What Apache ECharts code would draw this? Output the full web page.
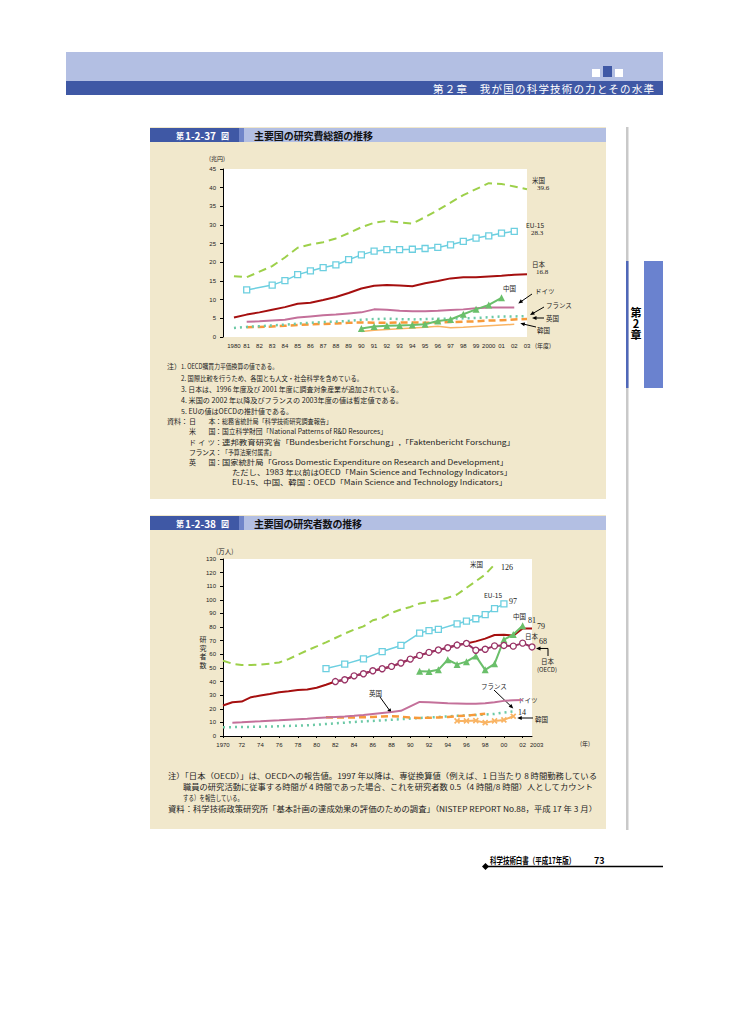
<!DOCTYPE html>
<html><head><meta charset="utf-8">
<script src="https://cdn.jsdelivr.net/npm/echarts@6/dist/echarts.min.js"></script>
<style>
html,body{margin:0;padding:0;background:#fff;}
#wrap{position:relative;width:729px;height:1032px;overflow:hidden;}
#deco{position:absolute;left:0;top:0;}
#c{position:absolute;left:0;top:0;width:729px;height:1032px;}
svg text{font-family:"Noto Sans CJK JP",sans-serif;}
</style></head><body>
<div id="wrap">
<svg id="deco" width="729" height="1032" xmlns="http://www.w3.org/2000/svg">
  <!-- header -->
  <rect x="66" y="52" width="597" height="29" fill="#b3bfe3"/>
  <rect x="66" y="81" width="597" height="14" fill="#3f58a5"/>
  <rect x="592" y="69" width="8" height="8" fill="#fff"/>
  <rect x="603" y="66" width="9" height="11" fill="#3f58a5"/>
  <rect x="615" y="69" width="8" height="8" fill="#fff"/>
  <text x="433" y="88" dominant-baseline="central" fill="#fff" font-size="10.5" textLength="221" lengthAdjust="spacing">第２章　我が国の科学技術の力とその水準</text>
  <!-- side bar -->
  <rect x="626" y="127" width="2.5" height="703" fill="#c9c9c9"/>
  <rect x="626" y="261" width="2.5" height="127" fill="#4f67b8"/>
  <rect x="644" y="261" width="19" height="127" fill="#6a82cf"/>
  <text x="636" y="307" font-size="11" font-weight="bold" style="writing-mode:vertical-rl;text-orientation:upright">第2章</text>
  <!-- panel 1 -->
  <rect x="150" y="127" width="456" height="372" fill="#f1e8cc"/>
  <rect x="150" y="128" width="89" height="14" fill="#3f58a5"/>
  <rect x="239" y="128" width="5" height="14" fill="#7085c9"/>
  <rect x="244" y="128" width="362" height="14" fill="#b3bfe3"/>
  <text x="176" y="135" dominant-baseline="central" fill="#fff" font-size="8" font-weight="bold">第</text>
  <text x="185" y="135" dominant-baseline="central" fill="#fff" font-size="10" font-weight="bold" font-family="Liberation Sans">1-2-37</text>
  <text x="221" y="135" dominant-baseline="central" fill="#fff" font-size="8" font-weight="bold">図</text>
  <text x="254" y="135" dominant-baseline="central" fill="#111" font-size="10" font-weight="bold" textLength="119" lengthAdjust="spacing">主要国の研究費総額の推移</text>
  <!-- notes 1 -->
  <g font-size="7" fill="#222">
  <text x="167" y="366" dominant-baseline="central">注）</text>
  <text x="181" y="366" dominant-baseline="central" textLength="97" lengthAdjust="spacingAndGlyphs">1. OECD購買力平価換算の値である。</text>
  <text x="181" y="377.5" dominant-baseline="central" textLength="182" lengthAdjust="spacingAndGlyphs">2. 国際比較を行うため、各国とも人文・社会科学を含めている。</text>
  <text x="181" y="389" dominant-baseline="central" textLength="222" lengthAdjust="spacingAndGlyphs">3. 日本は、1996 年度及び 2001 年度に調査対象産業が追加されている。</text>
  <text x="181" y="400" dominant-baseline="central" textLength="222" lengthAdjust="spacingAndGlyphs">4. 米国の 2002 年以降及びフランスの 2003年度の値は暫定値である。</text>
  <text x="181" y="411" dominant-baseline="central" textLength="112" lengthAdjust="spacingAndGlyphs">5. EUの値はOECDの推計値である。</text>
  <text x="167" y="421" dominant-baseline="central">資料：</text>
  <text x="189" y="421" dominant-baseline="central" textLength="33" lengthAdjust="spacing">日　　本：</text>
  <text x="222" y="421" dominant-baseline="central" textLength="110" lengthAdjust="spacingAndGlyphs">総務省統計局「科学技術研究調査報告」</text>
  <text x="189" y="431" dominant-baseline="central" textLength="33" lengthAdjust="spacing">米　　国：</text>
  <text x="222" y="431" dominant-baseline="central" textLength="165" lengthAdjust="spacingAndGlyphs">国立科学財団「National Patterns of R&amp;D Resources」</text>
  <text x="189" y="441.5" dominant-baseline="central" textLength="33" lengthAdjust="spacing">ド イ ツ：</text>
  <text x="222" y="441.5" dominant-baseline="central" textLength="293" lengthAdjust="spacingAndGlyphs">連邦教育研究省「Bundesbericht Forschung」,「Faktenbericht Forschung」</text>
  <text x="189" y="452" dominant-baseline="central" textLength="33" lengthAdjust="spacing">フランス：</text>
  <text x="222" y="452" dominant-baseline="central" textLength="53" lengthAdjust="spacingAndGlyphs">「予算法案付属書」</text>
  <text x="189" y="462" dominant-baseline="central" textLength="33" lengthAdjust="spacing">英　　国：</text>
  <text x="222" y="462" dominant-baseline="central" textLength="286" lengthAdjust="spacingAndGlyphs">国家統計局「Gross Domestic Expenditure on Research and Development」</text>
  <text x="232" y="472" dominant-baseline="central" textLength="280" lengthAdjust="spacingAndGlyphs">ただし、1983 年以前はOECD「Main Science and Technology Indicators」</text>
  <text x="232" y="482" dominant-baseline="central" textLength="275" lengthAdjust="spacingAndGlyphs">EU-15、中国、韓国：OECD「Main Science and Technology Indicators」</text>
  </g>
  <!-- panel 2 -->
  <rect x="150" y="515" width="456" height="314" fill="#f1e8cc"/>
  <rect x="150" y="516" width="89" height="14" fill="#3f58a5"/>
  <rect x="239" y="516" width="5" height="14" fill="#7085c9"/>
  <rect x="244" y="516" width="362" height="14" fill="#b3bfe3"/>
  <text x="176" y="523" dominant-baseline="central" fill="#fff" font-size="8" font-weight="bold">第</text>
  <text x="185" y="523" dominant-baseline="central" fill="#fff" font-size="10" font-weight="bold" font-family="Liberation Sans">1-2-38</text>
  <text x="221" y="523" dominant-baseline="central" fill="#fff" font-size="8" font-weight="bold">図</text>
  <text x="254" y="523" dominant-baseline="central" fill="#111" font-size="10" font-weight="bold" textLength="108" lengthAdjust="spacing">主要国の研究者数の推移</text>
  <g font-size="7.5" fill="#222">
  <text x="168" y="775" dominant-baseline="central" textLength="429" lengthAdjust="spacingAndGlyphs">注）「日本（OECD）」は、OECDへの報告値。1997 年以降は、専従換算値（例えば、1 日当たり 8 時間勤務している</text>
  <text x="183" y="786.5" dominant-baseline="central" textLength="410" lengthAdjust="spacingAndGlyphs">職員の研究活動に従事する時間が 4 時間であった場合、これを研究者数 0.5（4 時間/8 時間）人としてカウント</text>
  <text x="183" y="797.5" dominant-baseline="central" textLength="60" lengthAdjust="spacingAndGlyphs">する）を報告している。</text>
  <text x="168" y="808" dominant-baseline="central" textLength="429" lengthAdjust="spacingAndGlyphs">資料：科学技術政策研究所「基本計画の達成効果の評価のための調査」（NISTEP REPORT No.88，平成 17 年 3 月）</text>
  </g>
  <!-- footer -->
  <text transform="translate(490,860) scale(0.72,1)" dominant-baseline="central" font-size="9" font-weight="bold">科学技術白書（平成17年版）</text>
  <text x="594" y="860" dominant-baseline="central" font-size="9" font-weight="bold" font-family="Liberation Sans">73</text>
  <line x1="485" y1="866.5" x2="663" y2="866.5" stroke="#000" stroke-width="1.5"/>
  <polygon points="482,866.5 485.5,863 489,866.5 485.5,870" fill="#000"/>
</svg>
<div id="c"></div>
</div>
<script>
// ---------- Chart 1: research expenditure (trillion yen) ----------
const years1 = [1980,1981,1982,1983,1984,1985,1986,1987,1988,1989,1990,1991,1992,1993,1994,1995,1996,1997,1998,1999,2000,2001,2002,2003];
const us1 = [16.3,16.0,17.5,19.0,21.3,23.9,24.8,25.4,26.4,27.8,29.4,30.6,31.1,30.7,30.4,32.1,34.0,36.0,38.0,39.6,41.2,41.0,40.3,39.6];
const eu1 = [null,12.6,null,13.9,15.1,16.7,17.7,18.6,19.3,20.7,22.0,23.0,23.4,23.4,23.5,23.7,24.0,24.7,25.6,26.5,27.1,27.8,28.3,null];
const jp1 = [5.2,6.0,6.6,7.3,8.0,8.9,9.2,9.9,10.7,11.8,13.0,13.7,13.9,13.8,13.6,14.4,15.0,15.7,16.0,16.0,16.2,16.4,16.7,16.8];
const de1 = [null,4.1,4.2,4.4,4.6,5.2,5.5,5.8,6.0,6.3,6.6,7.4,7.3,7.0,6.9,6.9,7.0,7.2,7.4,7.7,7.9,7.9,7.9,null];
const fr1 = [2.4,2.7,2.9,3.1,3.3,3.6,3.8,4.0,4.1,4.3,4.6,4.8,4.9,4.8,4.7,4.8,4.9,4.9,5.0,5.1,5.3,5.5,5.5,5.6];
const uk1 = [null,2.6,2.7,2.8,3.0,3.2,3.4,3.5,3.6,3.8,3.9,3.8,3.8,3.9,3.9,3.8,3.9,4.0,4.1,4.2,4.4,4.5,4.7,4.8];
const cn1 = [null,null,null,null,null,null,null,null,null,null,2.3,2.8,3.0,3.1,3.2,3.4,4.3,4.7,6.1,7.4,8.6,10.5,null,null];
const kr1 = [null,null,null,null,null,null,null,null,null,null,1.5,1.8,2.0,2.2,2.4,2.6,2.9,2.5,2.6,2.8,3.0,3.2,3.4,null];

// ---------- Chart 2: number of researchers (10k persons) ----------
const years2 = [1970,1971,1972,1973,1974,1975,1976,1977,1978,1979,1980,1981,1982,1983,1984,1985,1986,1987,1988,1989,1990,1991,1992,1993,1994,1995,1996,1997,1998,1999,2000,2001,2002,2003];
const us2 = [55.3,53.1,52.1,52.1,52.5,53.1,54.0,56.5,59.7,62.9,65.8,68.8,72.0,75.2,78.1,80.5,85.0,86.7,90.4,92.9,94.8,97.3,98.5,99.7,101.5,103.9,108.8,113.7,118.6,126.0,null,null,null,null];
const eu2 = [null,null,null,null,null,null,null,null,null,null,null,49.5,null,52.8,null,56.7,null,62.0,null,66.5,null,75.6,77.4,78.3,null,82.4,84.3,86.1,89.2,93.6,97.0,null,null,null];
const jp2 = [22.4,24.8,25.3,28.5,29.7,30.9,32.2,32.9,33.7,34.1,35.4,37.6,40.0,41.3,44.2,45.7,47.9,49.4,51.1,53.6,56.5,59.2,61.4,63.2,64.8,66.8,68.0,69.5,71.5,74.2,74.4,73.7,79.0,79.0];
const jpOecd2 = [null,null,null,null,null,null,null,null,null,null,null,null,40.0,41.3,44.2,45.7,47.9,49.4,51.1,53.6,56.5,59.2,61.4,63.2,64.8,66.8,68.0,63.0,63.7,66.2,66.5,66.0,68.2,65.4];
const cn2 = [null,null,null,null,null,null,null,null,null,null,null,null,null,null,null,null,null,null,null,null,null,47.6,47.4,48.6,56.0,52.6,54.6,58.7,48.6,53.0,70.8,74.5,81.0,null];
const de2 = [null,9.8,10.1,10.5,10.8,11.2,11.5,11.9,12.3,12.7,13.2,13.6,14.0,14.4,14.9,15.5,16.2,16.9,17.6,18.5,21.8,25.0,24.8,24.4,24.0,23.8,23.6,23.7,24.0,24.8,25.8,26.3,26.4,null];
const uk2 = [null,null,null,null,null,null,null,null,null,null,null,13.7,13.6,13.5,13.6,13.8,14.0,14.3,14.6,14.2,13.5,13.2,13.4,13.6,14.0,14.6,15.0,15.6,16.3,null,null,null,null,null];
const fr2 = [6.4,6.5,6.6,6.7,6.8,7.0,7.2,7.4,7.6,7.9,8.3,8.8,9.3,9.8,10.3,10.7,11.1,11.5,11.9,12.4,12.8,13.2,13.6,14.0,14.4,14.8,15.1,15.4,15.8,16.2,17.2,18.0,null,null];
const kr2 = [null,null,null,null,null,null,null,null,null,null,null,null,null,null,null,null,null,null,null,null,null,null,null,null,null,11.1,11.1,11.3,9.8,11.1,11.8,14.5,null,null];
const xTicks2 = [1970,1972,1974,1976,1978,1980,1982,1984,1986,1988,1990,1992,1994,1996,1998,2000,2002];
const lastYearLabel2 = 2003;

const C = {
  us:'#9dd04a', eu:'#6ccfe0', jp:'#a50f0f', de:'#c4709a', fr:'#6cc9a6', uk:'#f79a3a', cn:'#6abf6a', kr:'#f9b464', jpo:'#993366'
};
const FONT = '"Noto Sans CJK JP", sans-serif';
const pairs = (ys, vs) => ys.map((y, i) => [y, vs[i] === null ? '-' : vs[i]]);

function line(name, xi, ys, vs, color, opt) {
  return Object.assign({
    name, type:'line', xAxisIndex:xi, yAxisIndex:xi, data:pairs(ys, vs),
    symbol:'none', lineStyle:{color, width:2}, itemStyle:{color}, silent:true, animation:false
  }, opt || {});
}

const chart = echarts.init(document.getElementById('c'), null, {renderer:'svg'});
const axisLbl = {fontSize:6, color:'#222', fontFamily:'Liberation Sans'};
const option = {
  backgroundColor:'transparent',
  animation:false,
  grid:[
    {left:223, top:169, width:304, height:168, show:true, backgroundColor:'#fff', borderWidth:0},
    {left:223, top:559, width:309, height:177, show:true, backgroundColor:'#fff', borderWidth:0}
  ],
  xAxis:[
    {gridIndex:0, type:'value', min:1979.14, max:2003,
     axisLine:{show:false}, axisTick:{show:false}, splitLine:{show:false},
     axisLabel:Object.assign({margin:6, customValues:years1, showMaxLabel:true, showMinLabel:true,
       formatter:v => (v===1980||v===2000) ? String(v) : String(v%100).padStart(2,'0')}, axisLbl)},
    {gridIndex:1, type:'value', min:1970, max:2003,
     axisLine:{show:true, lineStyle:{color:'#000', width:1}},
     axisTick:{show:true, length:2, customValues:xTicks2, lineStyle:{color:'#000'}},
     splitLine:{show:false},
     axisLabel:Object.assign({margin:6, customValues:xTicks2, showMinLabel:true,
       formatter:v => (v===1970) ? String(v) : String(v%100).padStart(2,'0')}, axisLbl)}
  ],
  yAxis:[
    {gridIndex:0, type:'value', min:0, max:45, interval:5,
     axisLine:{show:true, lineStyle:{color:'#000', width:1}},
     axisTick:{show:true, length:3, lineStyle:{color:'#000'}},
     splitLine:{show:false}, axisLabel:Object.assign({margin:7}, axisLbl)},
    {gridIndex:1, type:'value', min:0, max:130, interval:10,
     axisLine:{show:true, lineStyle:{color:'#000', width:1}},
     axisTick:{show:true, length:3, lineStyle:{color:'#000'}},
     splitLine:{show:false}, axisLabel:Object.assign({margin:7}, axisLbl)}
  ],
  series:[
    line('韓国', 0, years1, kr1, C.kr, {lineStyle:{color:C.kr, width:1.5}}),
    line('英国', 0, years1, uk1, C.uk, {lineStyle:{color:C.uk, width:2.5, type:[7,4]}}),
    line('フランス', 0, years1, fr1, C.fr, {lineStyle:{color:C.fr, width:2.5, type:[2,4]}}),
    line('ドイツ', 0, years1, de1, C.de),
    line('日本', 0, years1, jp1, C.jp),
    line('中国', 0, years1, cn1, C.cn, {symbol:'triangle', symbolSize:7, showSymbol:true}),
    line('EU-15', 0, years1, eu1, C.eu, {connectNulls:true, symbol:'rect', symbolSize:6, showSymbol:true,
      lineStyle:{color:C.eu, width:1.5}, itemStyle:{color:'#fff', borderColor:C.eu, borderWidth:1.3}}),
    line('米国', 0, years1, us1, C.us, {lineStyle:{color:C.us, width:2, type:[8,5]}}),

    line('フランス2', 1, years2, fr2, C.fr, {lineStyle:{color:C.fr, width:2.5, type:[2,4]}}),
    line('英国2', 1, years2, uk2, C.uk, {lineStyle:{color:C.uk, width:2.5, type:[7,4]}}),
    line('韓国2', 1, years2, kr2, C.kr, {lineStyle:{color:C.kr, width:2}, symbol:'path://M3,0h2v3h3v2h-3v3h-2v-3h-3v-2h3z', symbolRotate:45, symbolSize:7, showSymbol:true}),
    line('ドイツ2', 1, years2, de2, C.de),
    line('日本2', 1, years2, jp2, C.jp),
    line('中国2', 1, years2, cn2, C.cn, {symbol:'triangle', symbolSize:7, showSymbol:true}),
    line('日本OECD', 1, years2, jpOecd2, C.jpo, {symbol:'circle', symbolSize:6, showSymbol:true,
      itemStyle:{color:'#fff', borderColor:C.jpo, borderWidth:1.3}}),
    line('EU-15 2', 1, years2, eu2, C.eu, {connectNulls:true, symbol:'rect', symbolSize:6, showSymbol:true,
      lineStyle:{color:C.eu, width:1.5}, itemStyle:{color:'#fff', borderColor:C.eu, borderWidth:1.3}}),
    line('米国2', 1, years2, us2, C.us, {lineStyle:{color:C.us, width:2, type:[8,5]}})
  ]
};
chart.setOption(option);

// ---------- annotations ----------
const px = (g, x, y) => chart.convertToPixel({gridIndex:g}, [x, y]);
const G = [];
function txt(t, x, y, o) {
  G.push({type:'text', x, y, silent:true, style:Object.assign({text:t, fill:'#222', fontSize:6.5, fontFamily:FONT, verticalAlign:'middle'}, o||{})});
}
function arrow(x1, y1, x2, y2) {
  const a = Math.atan2(y2-y1, x2-x1), L = 4.5, W = 2;
  G.push({type:'line', silent:true, shape:{x1, y1, x2:x2-Math.cos(a)*3, y2:y2-Math.sin(a)*3}, style:{stroke:'#000', lineWidth:1}});
  G.push({type:'polygon', silent:true, shape:{points:[[x2,y2],
    [x2-L*Math.cos(a)+W*Math.sin(a), y2-L*Math.sin(a)-W*Math.cos(a)],
    [x2-L*Math.cos(a)-W*Math.sin(a), y2-L*Math.sin(a)+W*Math.cos(a)]]}, style:{fill:'#000'}});
}
const num = {fontFamily:'Liberation Serif', fontSize:7};
// chart 1
txt('(兆円)', 209, 158, {fontSize:6});
txt('米国', 532, 180); txt('39.6', 537, 188, num);
txt('EU-15', 526, 225); txt('28.3', 531, 233, num);
txt('日本', 532, 264); txt('16.8', 536, 272, num);
txt('中国', 503, 288);
txt('ドイツ', 535, 291);
txt('フランス', 546, 305);
txt('英国', 546, 318);
txt('韓国', 537, 330);
txt('(年度)', 535, 345, {fontSize:6});
{
  const d = px(0, 2002, 7.9), f = px(0, 2003, 5.6), u = px(0, 2003, 4.8), k = px(0, 2002, 3.4);
  arrow(532, 294, d[0]+4, d[1]-4);
  arrow(544, 307, f[0]+3, f[1]-1);
  arrow(544, 318, u[0]+5, 318);
  arrow(536, 327, k[0]+6, k[1]-1);
}
// chart 2
const num2 = {fontFamily:'Liberation Serif', fontSize:8};
{
  const e = px(1, lastYearLabel2, 0);
  txt(String(lastYearLabel2), e[0] - 2, e[1] + 9, {fontSize:6, fontFamily:'Liberation Sans', fill:'#222'});
}
txt('(万人)', 216, 551, {fontSize:6.5});
G.push({type:'text', x:203, y:652, silent:true, style:{text:'研\n究\n者\n数', fill:'#222', fontSize:7, lineHeight:8.5, fontFamily:FONT, align:'center', verticalAlign:'middle'}});
txt('米国', 470, 564); txt('126', 501, 567, num2);
txt('EU-15', 484, 595); txt('97', 509, 601, num2);
txt('中国', 513, 616); txt('81', 528, 620, num2);
txt('79', 537, 626, num2);
txt('日本', 525, 636);
txt('68', 539, 641.5, num2);
txt('日本', 541, 661); txt('(OECD)', 537, 669, {fontSize:6});
txt('フランス', 481, 686);
txt('英国', 369, 693);
txt('ドイツ', 518, 700);
txt('14', 518, 712, num2);
txt('韓国', 535, 718.5);
txt('(年)', 580, 743, {fontSize:6});
{
  const f = px(1, 2001, 18.0), u = px(1, 1988, 14.6), k = px(1, 2001, 14.5), o = px(1, 2003, 65.4);
  arrow(494, 690, f[0], f[1]-3);
  arrow(380, 697, u[0], u[1]-3);
  arrow(533, 718, k[0]+4, 718);
  const ay = o[1] + 1.5;
  G.push({type:'polyline', silent:true, shape:{points:[[548,656],[548,ay],[o[0]+8,ay]]}, style:{stroke:'#000', lineWidth:1, fill:null}});
  arrow(o[0]+9, ay, o[0]+4, ay);
}
chart.setOption({graphic:G});
</script>
</body></html>
